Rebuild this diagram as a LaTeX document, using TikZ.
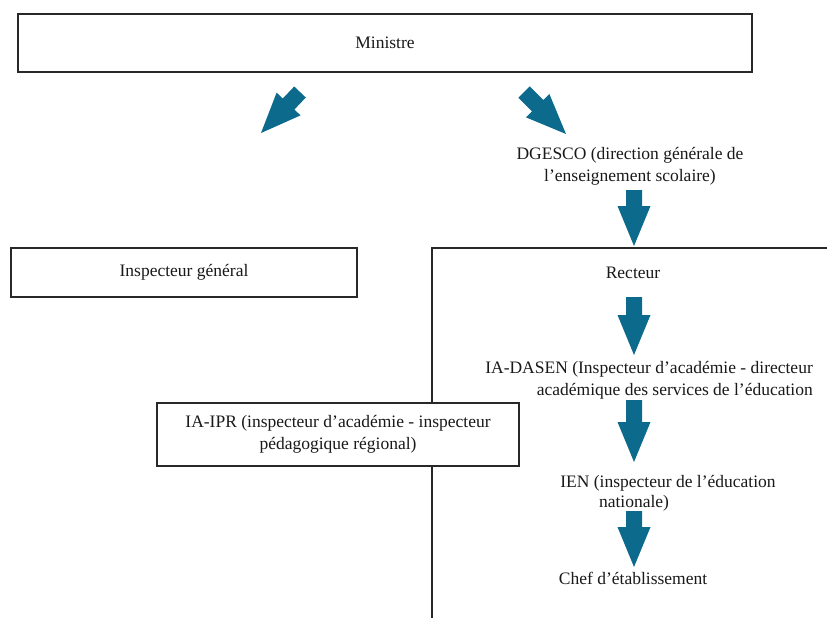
\documentclass[tikz,border=0pt]{standalone}
\usepackage{fontspec}
\setmainfont{Liberation Serif}
\usetikzlibrary{calc}
\definecolor{arrowcol}{RGB}{12,106,140}
\definecolor{linecol}{RGB}{40,40,40}
\newcommand{\blockarr}[3]{%
  \coordinate (#3) at ($(#2)!40pt!(#1)$);
  \fill[arrowcol] ($(#1)!8pt!90:(#2)$) -- ($(#3)!8pt!90:(#2)$) -- ($(#3)!16.5pt!90:(#2)$) -- (#2)
    -- ($(#3)!16.5pt!-90:(#2)$) -- ($(#3)!8pt!-90:(#2)$) -- ($(#1)!8pt!-90:(#2)$) -- cycle;}
\tikzset{
  txt/.style={font=\fontsize{17.5}{22}\selectfont, inner sep=0pt, text=black!90},
  box/.style={draw=linecol, line width=1.3pt, fill=white},
}
\begin{document}
\begin{tikzpicture}[x=1pt,y=-1pt]
\useasboundingbox (0,0) rectangle (827,618);
% Ministre
\draw[box] (18,14) rectangle (752,72);
\node[txt] (ministre) at (385,43) {Ministre};
% diagonal arrows
\coordinate (d1s) at (300,92); \coordinate (d1e) at (261,133);
\coordinate (d2s) at (524,92); \coordinate (d2e) at (566,134);
\blockarr{d1s}{d1e}{d1h}
\blockarr{d2s}{d2e}{d2h}
% DGESCO
\node[txt, align=center] (dgesco) at (630,166) {DGESCO (direction générale de\\l’enseignement scolaire)};
\coordinate (a1s) at (634,190); \coordinate (a1e) at (634,246);
\blockarr{a1s}{a1e}{a1h}
% big box (left and top edges)
\draw[linecol, line width=1.3pt] (830,248) -- (432,248) -- (432,620);
% Inspecteur general
\draw[box] (11,248) rectangle (357,297);
\node[txt] (ig) at (184,272) {Inspecteur général};
% Recteur
\node[txt] (recteur) at (633,273) {Recteur};
\coordinate (a2s) at (634,297); \coordinate (a2e) at (634,355);
\blockarr{a2s}{a2e}{a2h}
% IA-DASEN
\node[txt, align=right, anchor=east] (dasen) at (813,380) {IA-DASEN (Inspecteur d’académie - directeur\\académique des services de l’éducation};
\coordinate (a3s) at (634,400); \coordinate (a3e) at (634,462);
\blockarr{a3s}{a3e}{a3h}
% IA-IPR
\draw[box] (157,403) rectangle (519,466);
\node[txt, align=center] (ipr) at (338,434) {IA-IPR (inspecteur d’académie - inspecteur\\pédagogique régional)};
% IEN
\node[txt] (ien) at (668,483) {IEN (inspecteur de l’éducation};
\node[txt] (ien2) at (634,503) {nationale)};
\coordinate (a4s) at (634,511); \coordinate (a4e) at (634,567);
\blockarr{a4s}{a4e}{a4h}
% Chef
\node[txt] (chef) at (633,578) {Chef d’établissement};
\end{tikzpicture}
\end{document}
